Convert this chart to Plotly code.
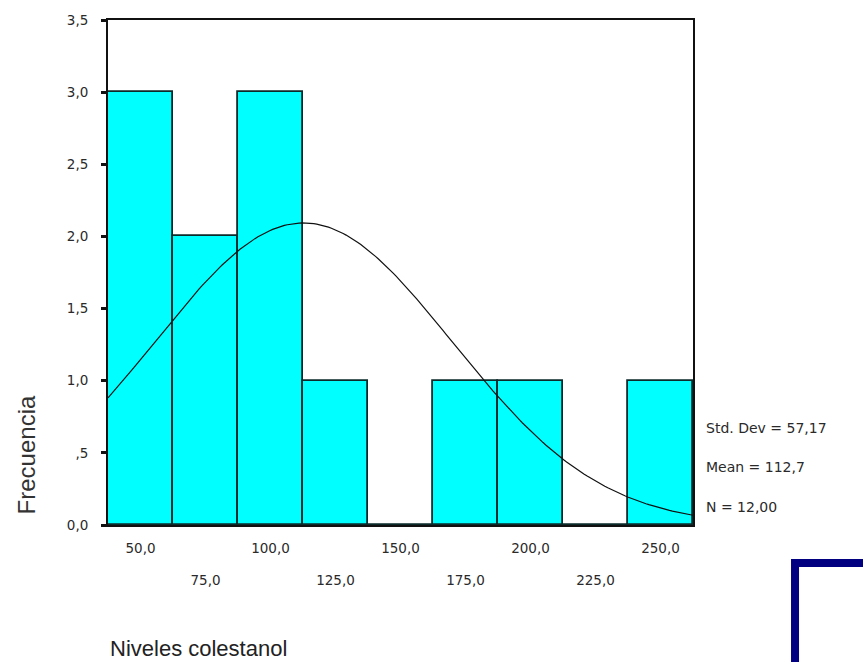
import numpy as np
import plotly.graph_objects as go

# Data
bin_centers = [50, 75, 100, 125, 150, 175, 200, 225, 250]
frequencies = [3, 2, 3, 1, 0, 1, 1, 0, 1]
bin_width = 25
std_dev = 57.17
mean = 112.7
n_obs = 12

x_tick_vals_row1 = [50, 100, 150, 200, 250]
x_tick_text_row1 = ["50,0", "100,0", "150,0", "200,0", "250,0"]
x_tick_vals_row2 = [75, 125, 175, 225]
x_tick_text_row2 = ["75,0", "125,0", "175,0", "225,0"]
y_tick_vals = [0, 0.5, 1.0, 1.5, 2.0, 2.5, 3.0, 3.5]
y_tick_text = ["0,0", ",5", "1,0", "1,5", "2,0", "2,5", "3,0", "3,5"]
stats_lines = ["Std. Dev = 57,17", "Mean = 112,7", "N = 12,00"]

x_min = bin_centers[0] - bin_width / 2
x_max = bin_centers[-1] + bin_width / 2

# Fitted normal curve (SPSS overlay) from the displayed statistics
curve_x = np.linspace(x_min, x_max, 200)
curve_y = n_obs * bin_width / (std_dev * np.sqrt(2 * np.pi)) * np.exp(-0.5 * ((curve_x - mean) / std_dev) ** 2)

FONT = "Liberation Sans, Arial, sans-serif"
TFONT = "DejaVu Sans, sans-serif"

fig = go.Figure()
fig.add_trace(go.Bar(
    x=bin_centers, y=frequencies, width=bin_width,
    marker=dict(color="#00FFFF", line=dict(color="#0d2b2b", width=1.8)),
    hoverinfo="skip",
))
fig.add_trace(go.Scatter(
    x=curve_x, y=curve_y, mode="lines",
    line=dict(color="#111111", width=1.2), hoverinfo="skip",
))
fig.add_trace(go.Scatter(
    x=[x_min, x_max], y=[0, 0], xaxis="x2", mode="none", hoverinfo="skip",
))

tick_font = dict(size=13.5, family=TFONT, color="#2a2a2a")

fig.update_layout(
    width=863, height=662,
    margin=dict(l=108, r=170, t=18, b=137),
    paper_bgcolor="white", plot_bgcolor="white",
    showlegend=False,
    bargap=0,
    font=dict(family=FONT, color="#222222"),
    xaxis=dict(
        range=[x_min, x_max], tickmode="array", tickvals=x_tick_vals_row1, ticktext=x_tick_text_row1,
        showline=True, linecolor="#111111", linewidth=2, mirror=True,
        showgrid=False, zeroline=False, ticks="", tickfont=tick_font,
        ticklabelstandoff=10,
    ),
    xaxis2=dict(
        range=[x_min, x_max], overlaying="x", anchor="y", side="bottom",
        tickmode="array", tickvals=x_tick_vals_row2, ticktext=x_tick_text_row2,
        showline=False, showgrid=False, zeroline=False, ticks="", tickfont=tick_font,
        ticklabelstandoff=45,
    ),
    yaxis=dict(
        range=[0, 3.5], tickmode="array", tickvals=y_tick_vals, ticktext=y_tick_text,
        showline=True, linecolor="#111111", linewidth=2, mirror=True,
        showgrid=False, zeroline=False, ticks="outside", ticklen=5, tickwidth=3, tickcolor="#111",
        tickfont=tick_font, ticklabelstandoff=10,
    ),
    annotations=[
        dict(text="Frecuencia", xref="paper", yref="paper", x=-0.140, y=0.138,
             xanchor="center", yanchor="middle",
             textangle=-90, showarrow=False, font=dict(size=24, family=FONT, color="#333")),
        dict(text="Niveles colestanol", xref="paper", yref="paper", x=0.0, y=-0.245,
             xanchor="left", yanchor="middle", showarrow=False, font=dict(size=22, family=FONT, color="#222")),
    ] + [
        dict(text=s, xref="paper", yref="paper", x=1.018, y=yy, xanchor="left", yanchor="middle",
             showarrow=False, font=dict(size=14, family=TFONT, color="#2a2a2a"))
        for s, yy in zip(stats_lines, [0.193, 0.114, 0.035])
    ],
    shapes=[
        dict(type="rect", xref="paper", yref="paper", x0=1.1744, x1=1.35, y0=-0.075, y1=-0.35,
             line=dict(color="#000080", width=8), fillcolor="rgba(0,0,0,0)"),
    ],
)

fig.write_html("out.html", config={"displayModeBar": False},
               post_script="document.body.style.margin='0';")
